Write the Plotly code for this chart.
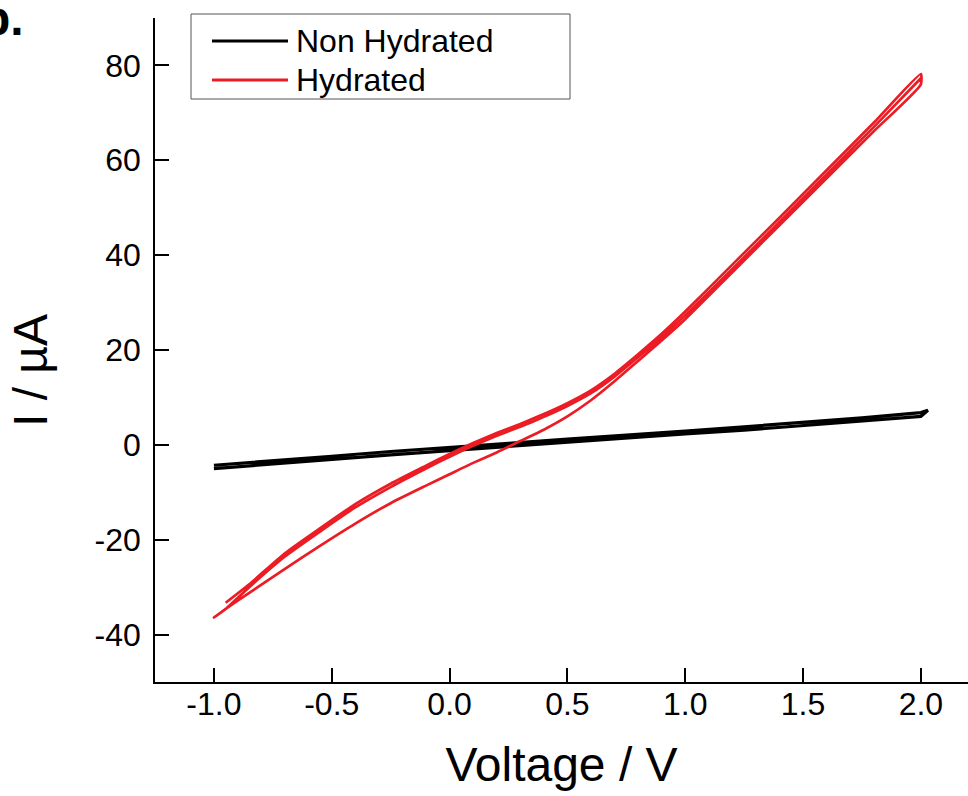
import plotly.graph_objects as go

# ---------------- data ----------------
# Non Hydrated: forward sweep (-1 V -> 2 V) and reverse sweep (2 V -> -1 V)
nh_fwd_v = [-1.0, -0.75, -0.5, -0.25, 0.0, 0.25, 0.5, 0.75, 1.0, 1.25, 1.5, 1.75, 2.0, 2.03]
nh_fwd_i = [-5.0, -4.0, -3.0, -2.1, -1.2, -0.3, 0.6, 1.4, 2.3, 3.1, 4.1, 5.0, 6.0, 7.3]
nh_rev_v = [2.0, 1.75, 1.5, 1.25, 1.0, 0.75, 0.5, 0.25, 0.0, -0.25, -0.5, -0.75, -1.0]
nh_rev_i = [6.8, 5.7, 4.7, 3.8, 2.9, 2.1, 1.2, 0.3, -0.5, -1.4, -2.4, -3.3, -4.3]

# Hydrated: first up sweep, down sweep, second up sweep
h_up1_v = [-0.95, -0.85, -0.7, -0.55, -0.4, -0.25, -0.1, 0.0, 0.1, 0.2, 0.3, 0.4, 0.5,
           0.6, 0.7, 0.8, 0.9, 1.0, 1.2, 1.4, 1.6, 1.8, 2.0]
h_up1_i = [-33.3, -29.4, -22.9, -17.6, -12.5, -8.2, -4.4, -1.9, 0.4, 2.5, 4.4, 6.5, 8.8,
           11.5, 15.0, 19.1, 23.4, 28.1, 38.0, 47.9, 57.9, 67.9, 78.2]
h_dn_v = [2.0, 1.8, 1.6, 1.4, 1.2, 1.0, 0.9, 0.8, 0.7, 0.6, 0.5, 0.4, 0.3, 0.2, 0.1,
          0.0, -0.1, -0.25, -0.4, -0.55, -0.7, -0.85, -0.95, -1.0]
h_dn_i = [76.0, 66.1, 56.2, 46.3, 36.4, 26.5, 22.0, 17.7, 13.4, 9.4, 6.0, 3.2, 0.8, -1.6, -3.8,
          -6.2, -8.6, -12.3, -16.6, -21.3, -26.2, -31.2, -34.6, -36.4]
h_up2_v = [-1.0, -0.95, -0.85, -0.7, -0.55, -0.4, -0.25, -0.1, 0.0, 0.1, 0.2, 0.3, 0.4, 0.5,
           0.6, 0.7, 0.8, 0.9, 1.0, 1.2, 1.4, 1.6, 1.8, 2.0]
h_up2_i = [-36.4, -34.6, -30.0, -23.6, -18.3, -13.2, -8.9, -5.0, -2.5, -0.2, 1.9, 3.8, 5.9, 8.2,
           10.9, 14.4, 18.5, 22.7, 27.3, 37.1, 47.0, 57.0, 67.0, 77.3]

series_names = ["Non Hydrated", "Hydrated"]
series_colors = ["#000000", "#EC1C24"]

x_tick_vals = [-1.0, -0.5, 0.0, 0.5, 1.0, 1.5, 2.0]
x_tick_text = ["-1.0", "-0.5", "0.0", "0.5", "1.0", "1.5", "2.0"]
y_tick_vals = [-40, -20, 0, 20, 40, 60, 80]
y_tick_text = ["-40", "-20", "0", "20", "40", "60", "80"]

x_title = "Voltage / V"
y_title = "I / µA"
panel_label = "b."

# ---------------- figure ----------------
FONT = "Liberation Sans, Arial, sans-serif"
W, H = 968, 796
ML, MR, MT, MB = 155, 0, 18, 114
PW, PH = W - ML - MR, H - MT - MB


def px(xp):
    return (xp - ML) / PW


def py(yp):
    return (H - MB - yp) / PH


fig = go.Figure()
fig.add_trace(go.Scatter(
    x=nh_fwd_v + nh_rev_v, y=nh_fwd_i + nh_rev_i, mode="lines",
    name=series_names[0], line=dict(color=series_colors[0], width=3.2),
    showlegend=False))
fig.add_trace(go.Scatter(
    x=h_up1_v + h_dn_v + h_up2_v, y=h_up1_i + h_dn_i + h_up2_i, mode="lines",
    name=series_names[1], line=dict(color=series_colors[1], width=2.7, shape="spline", smoothing=0.5),
    showlegend=False))

# legend drawn as a framed box
shapes = [dict(type="rect", xref="paper", yref="paper",
               x0=px(191), x1=px(570), y0=py(99), y1=py(14),
               line=dict(color="#555555", width=1), fillcolor="white", layer="above")]
annotations = []
for k, (nm, col) in enumerate(zip(series_names, series_colors)):
    yy = py(41 + 39 * k)
    shapes.append(dict(type="line", xref="paper", yref="paper",
                       x0=px(212), x1=px(288), y0=yy, y1=yy,
                       line=dict(color=col, width=2.8), layer="above"))
    annotations.append(dict(text=nm, xref="paper", yref="paper", x=px(294), y=yy,
                            xanchor="left", yanchor="middle", showarrow=False,
                            font=dict(family=FONT, size=32, color="black")))

annotations.append(dict(text="<b>" + panel_label + "</b>", xref="paper", yref="paper",
                        x=px(-21), y=py(18), xanchor="left", yanchor="middle",
                        showarrow=False, font=dict(family=FONT, size=48, color="black")))

# y-axis title placed as rotated text at the reference position
annotations.append(dict(text=y_title, xref="paper", yref="paper", x=px(31), y=py(371),
                        xanchor="center", yanchor="middle", textangle=-90, showarrow=False,
                        font=dict(family=FONT, size=48, color="black")))

axis_common = dict(showline=True, linecolor="black", linewidth=1.6, mirror=False,
                   ticks="inside", ticklen=14, tickwidth=1.6, tickcolor="black",
                   showgrid=False, zeroline=False,
                   tickfont=dict(family=FONT, size=32, color="black"))

fig.update_layout(
    width=W, height=H,
    margin=dict(l=ML, r=MR, t=MT, b=MB, pad=0),
    paper_bgcolor="white", plot_bgcolor="white",
    shapes=shapes, annotations=annotations,
    xaxis=dict(range=[-1.25, 2.2], tickvals=x_tick_vals, ticktext=x_tick_text,
               title=dict(text=x_title, font=dict(family=FONT, size=48, color="black"), standoff=26),
               ticklabelstandoff=-7, **axis_common),
    yaxis=dict(range=[-50, 90], tickvals=y_tick_vals, ticktext=y_tick_text,
               ticklabelstandoff=6, **axis_common),
)

fig.write_html("out.html", config={"displayModeBar": False},
               post_script="document.body.style.margin='0';document.body.style.padding='0';"
                           "document.body.style.overflow='hidden';")
